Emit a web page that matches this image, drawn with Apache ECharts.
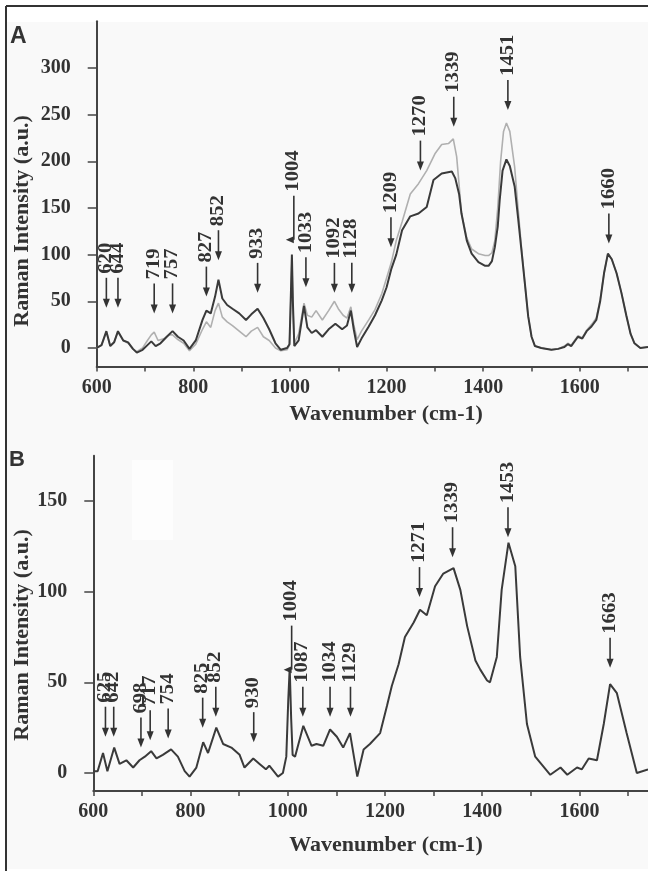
<!DOCTYPE html>
<html lang="en">
<head>
<meta charset="UTF-8" />
<title>Raman spectra A / B</title>
<script src="https://cdn.jsdelivr.net/npm/echarts@6/dist/echarts.min.js"></script>
<style>
  html, body { margin: 0; padding: 0; background: #fff; }
  #main { width: 648px; height: 871px; }
</style>
</head>
<body>
<div id="main"></div>
<script>
  // panel A: two spectra (dark + light), [wavenumber, intensity]
  var specADark = [[600,0],[610,3],[620,18],[628,2],[636,6],[644,18],[655,8],[665,6],[675,-1],[683,-5],[695,-2],[705,3],[713,7],[722,2],[732,5],[745,12],[757,18],[768,12],[780,8],[792,-1],[805,8],[819,30],[827,40],[836,37],[845,55],[852,73],[860,53],[870,46],[881,42],[895,37],[909,30],[920,36],[933,42],[945,32],[957,20],[970,5],[981,-2],[994,0],[999,4],[1002,60],[1004,100],[1006,50],[1009,2],[1018,8],[1029,45],[1036,22],[1045,16],[1054,19],[1067,12],[1080,20],[1094,26],[1108,20],[1118,24],[1126,40],[1132,20],[1139,1],[1148,10],[1163,23],[1176,35],[1190,51],[1200,65],[1210,85],[1220,100],[1232,126],[1249,141],[1266,144],[1283,151],[1297,180],[1314,187],[1335,189],[1342,182],[1350,165],[1355,144],[1366,115],[1376,101],[1390,92],[1404,88],[1411,88],[1418,93],[1424,108],[1430,130],[1434,158],[1440,190],[1448,202],[1455,195],[1465,173],[1472,140],[1479,105],[1486,70],[1493,34],[1500,12],[1507,2],[1520,0],[1541,-2],[1555,-1],[1568,1],[1575,4],[1582,2],[1596,12],[1605,10],[1614,18],[1624,23],[1634,30],[1642,50],[1650,80],[1658,101],[1666,95],[1676,80],[1686,59],[1696,35],[1705,15],[1713,5],[1725,0],[1741,1]];
  var specALight = [[600,0],[610,3],[620,17],[628,2],[636,6],[644,17],[655,8],[665,5],[675,-1],[683,-4],[695,0],[705,8],[713,14],[719,17],[727,8],[740,10],[750,14],[757,14],[768,9],[780,5],[792,-3],[805,4],[819,20],[827,28],[836,22],[845,40],[852,48],[860,33],[870,28],[881,24],[895,18],[909,12],[920,18],[933,22],[945,12],[957,8],[970,0],[981,-3],[994,-2],[999,3],[1002,55],[1004,95],[1006,45],[1009,5],[1018,15],[1029,48],[1036,35],[1045,33],[1054,40],[1067,30],[1080,40],[1092,50],[1100,42],[1110,35],[1118,32],[1126,44],[1132,25],[1139,9],[1148,18],[1163,30],[1176,41],[1190,58],[1200,75],[1210,92],[1220,115],[1232,135],[1249,165],[1266,176],[1283,190],[1300,208],[1314,218],[1328,219],[1338,224],[1345,205],[1350,175],[1355,144],[1366,118],[1376,106],[1390,101],[1404,99],[1411,99],[1418,102],[1424,115],[1430,150],[1436,200],[1442,232],[1448,241],[1455,232],[1465,194],[1472,150],[1479,108],[1486,70],[1493,34],[1500,12],[1507,2],[1520,0],[1541,-2],[1555,-1],[1568,2],[1575,5],[1582,3],[1596,13],[1605,11],[1614,19],[1624,25],[1634,32],[1642,52],[1650,80],[1658,101],[1666,95],[1676,80],[1686,59],[1696,35],[1705,15],[1713,5],[1725,0],[1741,1]];

  // panel B: one spectrum
  var specB = [[600,1],[609,1],[620,11],[629,1],[643,14],[654,5],[668,7],[682,3],[695,7],[706,9],[719,12],[730,8],[743,10],[760,13],[774,9],[788,1],[798,-2],[812,3],[826,17],[836,11],[853,25],[867,16],[884,14],[901,10],[911,3],[929,8],[942,5],[955,2],[962,4],[980,-2],[990,0],[997,9],[1001,40],[1004,58],[1007,30],[1010,10],[1015,9],[1032,26],[1049,15],[1059,16],[1073,15],[1087,24],[1101,20],[1114,14],[1128,22],[1143,-2],[1156,13],[1169,16],[1190,22],[1204,37],[1214,48],[1228,60],[1241,75],[1259,83],[1272,90],[1286,87],[1303,103],[1320,110],[1341,113],[1355,101],[1369,81],[1386,62],[1396,57],[1410,51],[1416,50],[1430,64],[1440,101],[1454,127],[1468,114],[1478,64],[1492,27],[1509,9],[1540,-1],[1561,3],[1575,-1],[1595,3],[1605,2],[1619,8],[1636,7],[1650,27],[1663,49],[1677,44],[1697,22],[1718,0],[1741,2]];

  // peak annotations: arrow x, arrow tip height, label text
  var peakPosA = [620, 644, 719, 757, 827, 852, 933, 1008, 1033, 1092, 1128, 1209, 1270, 1339, 1451, 1660];
  var peakTipA = [43, 43, 37, 37, 55, 94, 59, 116, 65, 59, 59, 108, 190, 237, 255, 112];
  var peakTextA = ['620', '644', '719', '757', '827', '852', '933', '1004', '1033', '1092', '1128', '1209', '1270', '1339', '1451', '1660'];

  var peakPosB = [625, 642, 698, 717, 754, 825, 852, 930, 1008, 1031, 1087, 1129, 1271, 1339, 1453, 1663];
  var peakTipB = [20, 20, 14, 18, 19, 25, 31, 17, 57, 31, 31, 31, 97, 119, 130, 58];
  var peakTextB = ['625', '642', '698', '717', '754', '825', '852', '930', '1004', '1087', '1034', '1129', '1271', '1339', '1453', '1663'];

  // axis ticks / labels
  var xLabels = [600, 800, 1000, 1200, 1400, 1600];
  var xTicks = [600, 700, 800, 900, 1000, 1100, 1200, 1300, 1400, 1500, 1600, 1700];
  var yLabelsA = [0, 50, 100, 150, 200, 250, 300];
  var yMinorA = [25, 75, 125, 175, 225, 275, 325];
  var yLabelsB = [0, 50, 100, 150];
  var yMinorB = [25, 75, 125];

  var ink = '#333';
  var serif = '"Liberation Serif", "DejaVu Serif", serif';

  var myChart = echarts.init(document.getElementById('main'));

  function plain(v) {
    return String(v);
  }

  function arrows(texts) {
    return function (params, api) {
      var i = params.dataIndex;
      var p = api.coord([api.value(0), api.value(1)]);
      var x = p[0], y = p[1];
      var special = texts[i] === '1004';
      var len = special ? 44 : 30;
      var head = special
        ? { type: 'polygon', shape: { points: [[x - 8, y], [x, y - 3.5], [x, y + 3.5]] }, style: { fill: ink } }
        : { type: 'polygon', shape: { points: [[x - 3.5, y - 9], [x + 3.5, y - 9], [x, y]] }, style: { fill: ink } };
      return {
        type: 'group',
        children: [
          { type: 'line', shape: { x1: x, y1: y - len, x2: x, y2: special ? y : y - 8 }, style: { stroke: ink, lineWidth: 1.6 } },
          head,
          {
            type: 'text', x: x, y: y - len - 4, rotation: Math.PI / 2, scaleX: 1.15,
            style: { text: texts[i], fontFamily: serif, fontWeight: 'bold', fontSize: 18, fill: ink, align: 'left', verticalAlign: 'middle' }
          }
        ]
      };
    };
  }

  function xAxisOf(gridIndex) {
    return {
      type: 'value', gridIndex: gridIndex, min: 600, max: 1741,
      axisLine: { onZero: false, lineStyle: { color: '#444', width: 2 } },
      axisTick: { customValues: xTicks, length: 5, lineStyle: { color: '#444', width: 1.5 } },
      axisLabel: { customValues: xLabels, formatter: plain, margin: 11, color: ink, fontFamily: serif, fontWeight: 'bold', fontSize: 20 },
      splitLine: { show: false }
    };
  }

  function yAxesOf(gridIndex, min, max, labels, minor) {
    return [{
      type: 'value', gridIndex: gridIndex, min: min, max: max,
      axisLine: { show: true, onZero: false, lineStyle: { color: '#444', width: 2 } },
      axisTick: { customValues: labels, length: 9, lineStyle: { color: '#444', width: 1.5 } },
      axisLabel: { customValues: labels, formatter: plain, margin: 26, color: ink, fontFamily: serif, fontWeight: 'bold', fontSize: 20 },
      splitLine: { show: false }
    }, {
      type: 'value', gridIndex: gridIndex, min: min, max: max,
      axisLine: { show: false, onZero: false },
      axisTick: { customValues: minor, length: 5, lineStyle: { color: '#444', width: 1.5 } },
      axisLabel: { show: false },
      splitLine: { show: false }
    }];
  }

  var option = {
    backgroundColor: '#fff',
    animation: false,
    grid: [
      { left: 96.7, top: 21.3, width: 551.3, height: 345.3 },
      { left: 93.3, top: 455.7, width: 554.7, height: 335.4 }
    ],
    xAxis: [xAxisOf(0), xAxisOf(1)],
    yAxis: yAxesOf(0, -20, 350, yLabelsA, yMinorA).concat(yAxesOf(1, -10, 175, yLabelsB, yMinorB)),
    graphic: [
      { type: 'rect', z: -100, shape: { x: 7, y: 22, width: 641, height: 847 }, style: { fill: '#f9f9f9' } },
      { type: 'rect', z: -99, shape: { x: 132, y: 460, width: 41, height: 80 }, style: { fill: '#fdfdfd' } },
      { type: 'line', shape: { x1: 6, y1: 6, x2: 648, y2: 6 }, style: { stroke: '#333', lineWidth: 2 } },
      { type: 'line', shape: { x1: 6, y1: 6, x2: 6, y2: 871 }, style: { stroke: '#333', lineWidth: 2 } },
      { type: 'text', x: 10, y: 37, style: { text: 'A', fontFamily: '"Liberation Sans", Arial, sans-serif', fontWeight: 'bold', fontSize: 23, fill: ink, verticalAlign: 'middle' } },
      { type: 'text', x: 9, y: 460, style: { text: 'B', fontFamily: '"Liberation Sans", Arial, sans-serif', fontWeight: 'bold', fontSize: 22, fill: ink, verticalAlign: 'middle' } },
      { type: 'text', x: 22, y: 221, rotation: Math.PI / 2, style: { text: 'Raman Intensity (a.u.)', fontFamily: serif, fontWeight: 'bold', fontSize: 22, fill: ink, align: 'center', verticalAlign: 'middle' } },
      { type: 'text', x: 22, y: 635, rotation: Math.PI / 2, style: { text: 'Raman Intensity (a.u.)', fontFamily: serif, fontWeight: 'bold', fontSize: 22, fill: ink, align: 'center', verticalAlign: 'middle' } },
      { type: 'text', x: 386, y: 414, style: { text: 'Wavenumber (cm-1)', fontFamily: serif, fontWeight: 'bold', fontSize: 22, fill: ink, align: 'center', verticalAlign: 'middle' } },
      { type: 'text', x: 386, y: 845, style: { text: 'Wavenumber (cm-1)', fontFamily: serif, fontWeight: 'bold', fontSize: 22, fill: ink, align: 'center', verticalAlign: 'middle' } }
    ],
    series: [
      {
        type: 'line', xAxisIndex: 0, yAxisIndex: 0, data: specALight, showSymbol: false,
        lineStyle: { color: '#b0b0b0', width: 1.6 }, z: 3
      },
      {
        type: 'line', xAxisIndex: 0, yAxisIndex: 0, data: specADark, showSymbol: false,
        lineStyle: { color: '#3a3a3a', width: 2 }, z: 4
      },
      {
        type: 'line', xAxisIndex: 1, yAxisIndex: 2, data: specB, showSymbol: false,
        lineStyle: { color: '#3a3a3a', width: 2 }, z: 4
      },
      {
        type: 'custom', coordinateSystem: 'cartesian2d', xAxisIndex: 0, yAxisIndex: 0, clip: false, z: 5,
        data: peakPosA.map(function (w, i) { return [w, peakTipA[i]]; }),
        renderItem: arrows(peakTextA)
      },
      {
        type: 'custom', coordinateSystem: 'cartesian2d', xAxisIndex: 1, yAxisIndex: 2, clip: false, z: 5,
        data: peakPosB.map(function (w, i) { return [w, peakTipB[i]]; }),
        renderItem: arrows(peakTextB)
      }
    ]
  };

  myChart.setOption(option);
</script>
</body>
</html>
